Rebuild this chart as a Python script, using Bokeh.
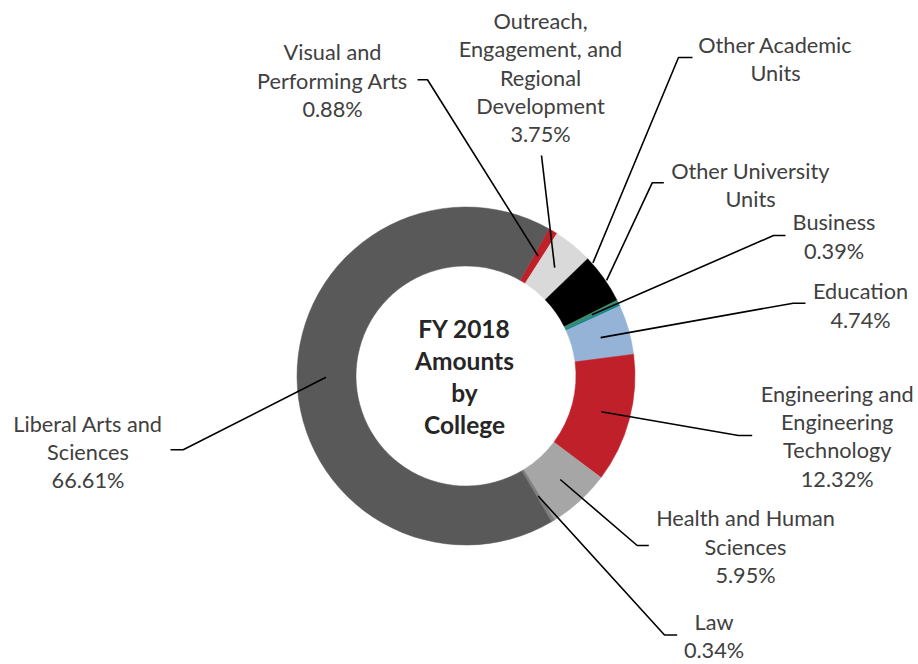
import math
from bokeh.plotting import figure
from bokeh.models import Range1d, ColumnDataSource
from bokeh.core.properties import value
from bokeh.embed import file_html
from bokeh.resources import INLINE

# ---------------- data (clockwise order, starting near 12 o'clock) ----------------
colleges = [
    "Visual and Performing Arts",
    "Outreach, Engagement, and Regional Development",
    "Other Academic Units",
    "Business",
    "Other University Units",
    "Education",
    "Engineering and Engineering Technology",
    "Health and Human Sciences",
    "Law",
    "Liberal Arts and Sciences",
]
shares = [0.88, 3.75, 4.80, 0.39, 0.22, 4.74, 12.32, 5.95, 0.34, 66.61]
show_pct = [True, True, False, True, False, True, True, True, True, True]
name_lines = [
    ["Visual and", "Performing Arts"],
    ["Outreach,", "Engagement, and", "Regional", "Development"],
    ["Other Academic", "Units"],
    ["Business"],
    ["Other University", "Units"],
    ["Education"],
    ["Engineering and", "Engineering", "Technology"],
    ["Health and Human", "Sciences"],
    ["Law"],
    ["Liberal Arts and", "Sciences"],
]
colors = ["#c0202a", "#d9d9d9", "#000000", "#3b8a6b", "#12858a",
          "#95b3d7", "#c0202a", "#a6a6a6", "#7f7f7f", "#595959"]
title_lines = ["FY 2018", "Amounts", "by", "College"]

# ---------------- layout (reference pixel coordinates) ----------------
W, H = 918, 664
def Y(ry):
    return H - ry

CX, CY = 465.5, 375.5
R_OUT, R_IN = 169, 110
START_DEG = 29.4          # clockwise from 12 o'clock
ANCHOR_R = 140

# label block: (center x, first line center y)
label_pos = [
    (332, 51.7), (540, 20.5), (775, 44.5), (833.5, 221.7), (750, 170),
    (860, 290.7), (836.7, 393.3), (745, 517.7), (713.5, 621.5), (87.5, 423.3),
]
LINE_H = 28.3
# leader: (start point, elbow) ; anchor angle/radius overrides
leader_start = [
    ((417, 79.3), (427, 79.3)),
    ((541, 155), None),
    ((692, 57), (678, 57)),
    ((785, 235), (773, 235)),
    ((663.3, 182.3), (651.7, 182.3)),
    ((805, 302.7), (792.7, 302.7)),
    ((751.7, 435), (738, 435)),
    ((648.3, 545), (636.7, 545)),
    ((676.7, 634.5), (664, 634.5)),
    ((170, 449.3), (182.7, 449.3)),
]
anchor_override = {2: (48.3, 170), 4: (55.8, 170)}

# ---------------- geometry from data ----------------
starts, ends, mids = [], [], []
cum = START_DEG
for s in shares:
    t1, t2 = cum, cum + s * 3.6
    starts.append(math.radians(90 - t2))
    ends.append(math.radians(90 - t1))
    mids.append((t1 + t2) / 2)
    cum = t2

p = figure(width=W, height=H, output_backend="svg", toolbar_location=None,
           x_range=Range1d(0, W), y_range=Range1d(0, H),
           min_border=0, outline_line_color=None)
p.axis.visible = False
p.grid.visible = False
p.background_fill_color = "white"
p.border_fill_color = "white"

wsrc = ColumnDataSource(dict(start=starts, end=ends, color=colors, name=colleges))
p.annular_wedge(x=CX, y=Y(CY), inner_radius=R_IN, outer_radius=R_OUT,
                start_angle="start", end_angle="end", fill_color="color",
                line_color="color", line_width=0.5, source=wsrc)

# leader lines
xs, ys = [], []
for i in range(len(colleges)):
    th, r = anchor_override.get(i, (mids[i], ANCHOR_R))
    ax = CX + r * math.sin(math.radians(th))
    ay = CY - r * math.cos(math.radians(th))
    (sx, sy), elbow = leader_start[i]
    pts = [(sx, sy)] + ([elbow] if elbow else []) + [(ax, ay)]
    xs.append([q[0] for q in pts])
    ys.append([Y(q[1]) for q in pts])
p.multi_line(xs=xs, ys=ys, line_color="black", line_width=1.6)

# labels
tx, ty, tt = [], [], []
for i, name in enumerate(colleges):
    lines = list(name_lines[i])
    if show_pct[i]:
        lines.append(f"{shares[i]:.2f}%")
    lx, ly = label_pos[i]
    for k, ln in enumerate(lines):
        tx.append(lx)
        ty.append(Y(ly + k * LINE_H))
        tt.append(ln)
p.text(x=tx, y=ty, text=tt, text_font=value("Lato"), text_font_size="21.7px",
       text_align="center", text_baseline="middle", text_color="#404040")

# center title
TITLE_Y0, TITLE_DY = 327.5, 32
p.text(x=[464] * len(title_lines),
       y=[Y(TITLE_Y0 + k * TITLE_DY) for k in range(len(title_lines))],
       text=title_lines, text_font=value("Lato"), text_font_size="24.5px",
       text_font_style="bold", text_align="center", text_baseline="middle",
       text_color="#262626")

open("out.html", "w").write(file_html(p, INLINE))
